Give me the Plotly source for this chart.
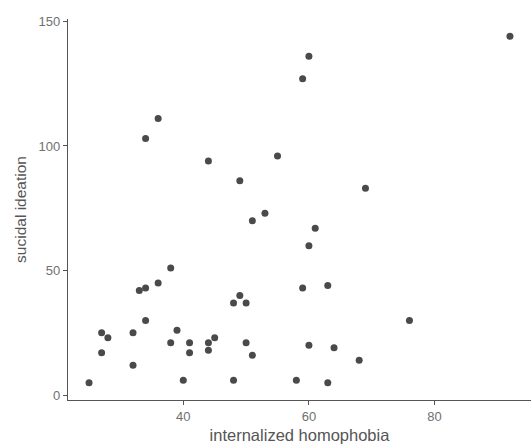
import plotly.graph_objects as go

homophobia = [34, 36, 44, 49, 53, 51,
              92, 60, 59, 55, 69,
              38, 36, 34, 33, 34, 27, 28, 27, 32, 32, 25, 39, 38, 41, 41, 40,
              44, 44, 45, 48, 49, 50, 50, 51, 48,
              61, 60, 59, 63, 76, 60, 64, 68, 58, 63]
ideation = [103, 111, 94, 86, 73, 70,
            144, 136, 127, 96, 83,
            51, 45, 43, 42, 30, 25, 23, 17, 25, 12, 5, 26, 21, 21, 17, 6,
            21, 18, 23, 37, 40, 37, 21, 16, 6,
            67, 60, 43, 44, 30, 20, 19, 14, 6, 5]

x_ticks = [40, 60, 80]
y_ticks = [0, 50, 100, 150]

fig = go.Figure(go.Scatter(
    x=homophobia, y=ideation, mode="markers",
    marker=dict(color="#4a4a4a", size=7, line=dict(width=0)),
))

axis_common = dict(
    showgrid=False, zeroline=False, showline=True, linecolor="#555555", linewidth=1.2,
    ticks="outside", ticklen=4, tickcolor="#555555", tickwidth=1.2,
    tickfont=dict(family="Liberation Sans, Arial", size=13, color="#707070"),
)

fig.update_layout(
    width=531, height=446,
    margin=dict(l=68, r=0, t=19, b=46),
    plot_bgcolor="white", paper_bgcolor="white",
    showlegend=False,
    xaxis=dict(range=[21.65, 95.35], tickvals=x_ticks,
               title=dict(text="internalized homophobia", standoff=6,
                          font=dict(family="Liberation Sans, Arial", size=16.5, color="#555555")),
               **axis_common),
    yaxis=dict(range=[-1.95, 150.95], tickvals=y_ticks,
               title=dict(text="sucidal ideation", standoff=8,
                          font=dict(family="Liberation Sans, Arial", size=15.5, color="#555555")),
               **axis_common),
)

fig.write_html("out.html")
